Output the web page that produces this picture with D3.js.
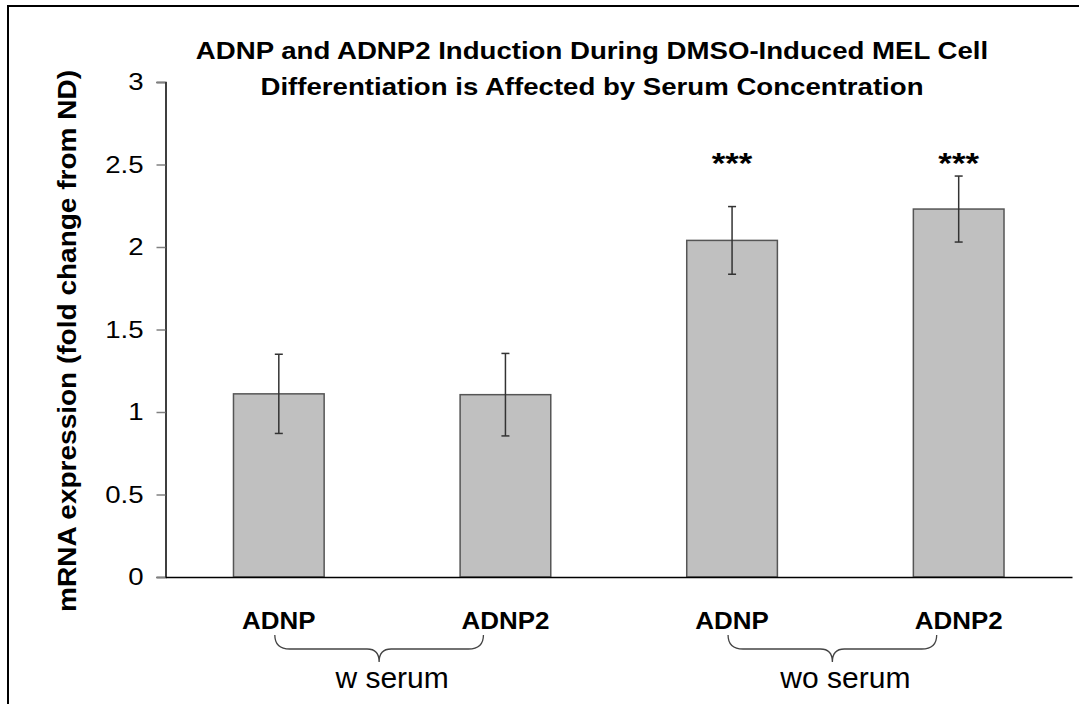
<!DOCTYPE html>
<html>
<head>
<meta charset="utf-8">
<script src="https://cdn.jsdelivr.net/npm/d3@7"></script>
<style>
    body { margin: 0; background: #fff; }
    svg { font-family: "Liberation Sans", Arial, sans-serif; }
</style>
</head>
<body>
<div id="viz"></div>
<script>
var genes = ['ADNP', 'ADNP2', 'ADNP', 'ADNP2'];
var condition = ['w serum', 'w serum', 'wo serum', 'wo serum'];
var foldChange = [1.11, 1.105, 2.04, 2.23];
var errSize = [0.24, 0.25, 0.205, 0.2];
var stars = ['', '', '***', '***'];
var starLevel = 2.45;
var yTickValues = [0, 0.5, 1, 1.5, 2, 2.5, 3];
var groupNames = ['w serum', 'wo serum'];
var titleLines = ['ADNP and ADNP2 Induction During DMSO-Induced MEL Cell',
    'Differentiation is Affected by Serum Concentration'];
var yLabel = 'mRNA expression (fold change from ND)';

var chartW = 1079,
    chartH = 704,
    plotLeft = 165.5,
    plotTop = 82,
    plotBottom = 577;

var svg,
    xScale,
    yScale,
    yAxisTicks,
    xAxisTicks,
    yGuide,
    xGuide,
    bars;

// the original font draws wider than Liberation Sans, so stretch text a bit
function widen(sel, k) {
    sel.each(function () {
        var len = this.getComputedTextLength();
        d3.select(this)
            .attr('textLength', len * k)
            .attr('lengthAdjust', 'spacingAndGlyphs');
    });
}

function bracePath(x0, x1, yTop, yMid, yTip) {
    var m = (x0 + x1) / 2, r = 15, t = 12;
    return 'M' + x0 + ',' + yTop +
        'Q' + x0 + ',' + yMid + ' ' + (x0 + r) + ',' + yMid +
        'L' + (m - t) + ',' + yMid +
        'Q' + m + ',' + yMid + ' ' + m + ',' + yTip +
        'Q' + m + ',' + yMid + ' ' + (m + t) + ',' + yMid +
        'L' + (x1 - r) + ',' + yMid +
        'Q' + x1 + ',' + yMid + ' ' + x1 + ',' + yTop;
}

svg = d3.select('#viz').append('svg')
    .attr('width', chartW)
    .attr('height', chartH);

svg.append('rect')
    .attr('x', 8)
    .attr('y', 6)
    .attr('width', 1200)
    .attr('height', 800)
    .attr('fill', 'none')
    .attr('stroke', '#000')
    .attr('stroke-width', 2);

xScale = d3.scaleBand()
    .domain(d3.range(genes.length))
    .range([plotLeft, 1072])
    .paddingInner(0.6)
    .paddingOuter(0.3);

yScale = d3.scaleLinear()
    .domain([0, 3])
    .range([plotBottom, plotTop]);

// title
svg.append('g').selectAll('text')
    .data(titleLines)
    .enter().append('text')
    .attr('x', 592)
    .attr('y', function (d, i) { return 59 + i * 36; })
    .attr('text-anchor', 'middle')
    .style('font-size', '24px')
    .style('font-weight', 'bold')
    .text(function (d) { return d; })
    .call(widen, 1.15);

// y axis
yAxisTicks = d3.axisLeft(yScale)
    .tickValues(yTickValues)
    .tickSize(9)
    .tickPadding(13)
    .tickFormat(d3.format('~g'));

yGuide = svg.append('g')
    .attr('transform', 'translate(' + plotLeft + ',0)')
    .call(yAxisTicks);
yGuide.select('.domain').attr('stroke', '#000').attr('stroke-width', 1.5);
yGuide.selectAll('.tick line').attr('stroke', '#808080').attr('stroke-width', 1.5);
yGuide.selectAll('.tick text')
    .attr('fill', '#000')
    .style('font-size', '24px')
    .style('font-family', '"Liberation Sans", Arial, sans-serif')
    .call(widen, 1.15);

svg.append('text')
    .attr('transform', 'translate(76,341) rotate(-90)')
    .attr('text-anchor', 'middle')
    .style('font-size', '25px')
    .style('font-weight', 'bold')
    .text(yLabel)
    .call(widen, 1.12);

// bars
bars = svg.append('g').selectAll('rect')
    .data(foldChange)
    .enter().append('rect')
    .attr('x', function (d, i) { return xScale(i); })
    .attr('y', function (d) { return yScale(d); })
    .attr('width', xScale.bandwidth())
    .attr('height', function (d) { return yScale(0) - yScale(d); })
    .attr('fill', '#c0c0c0')
    .attr('stroke', '#555')
    .attr('stroke-width', 1.5);

// error bars
var errG = svg.append('g')
    .attr('stroke', '#333')
    .attr('stroke-width', 1.5);

foldChange.forEach(function (d, i) {
    var cx = xScale(i) + xScale.bandwidth() / 2;
    var hi = yScale(d + errSize[i]), lo = yScale(d - errSize[i]);
    errG.append('line').attr('x1', cx).attr('x2', cx).attr('y1', hi).attr('y2', lo);
    errG.append('line').attr('x1', cx - 4).attr('x2', cx + 4).attr('y1', hi).attr('y2', hi);
    errG.append('line').attr('x1', cx - 4).attr('x2', cx + 4).attr('y1', lo).attr('y2', lo);
});

// significance stars
svg.append('g').selectAll('text')
    .data(stars)
    .enter().append('text')
    .attr('x', function (d, i) { return xScale(i) + xScale.bandwidth() / 2; })
    .attr('y', yScale(starLevel))
    .attr('text-anchor', 'middle')
    .style('font-size', '29px')
    .style('font-weight', 'bold')
    .text(function (d) { return d; })
    .filter(function (d) { return d !== ''; })
    .call(widen, 1.2);

// x axis
xAxisTicks = d3.axisBottom(xScale)
    .tickSize(0)
    .tickPadding(35)
    .tickFormat(function (i) { return genes[i]; });

xGuide = svg.append('g')
    .attr('transform', 'translate(0,' + plotBottom + ')')
    .call(xAxisTicks);
xGuide.select('.domain').attr('stroke', '#000').attr('stroke-width', 1.5);
xGuide.selectAll('.tick text')
    .attr('fill', '#000')
    .style('font-size', '24px')
    .style('font-weight', 'bold')
    .style('font-family', '"Liberation Sans", Arial, sans-serif')
    .call(widen, 1.08);

// group braces
groupNames.forEach(function (g) {
    var idx = d3.range(genes.length).filter(function (i) { return condition[i] === g; });
    var c0 = xScale(idx[0]) + xScale.bandwidth() / 2;
    var c1 = xScale(idx[idx.length - 1]) + xScale.bandwidth() / 2;
    svg.append('path')
        .attr('d', bracePath(c0 - 4, c1 - 22, 635, 649, 662))
        .attr('fill', 'none')
        .attr('stroke', '#444')
        .attr('stroke-width', 1.3);
    svg.append('text')
        .attr('x', (c0 + c1) / 2)
        .attr('y', 688)
        .attr('text-anchor', 'middle')
        .style('font-size', '30px')
        .text(g);
});
</script>
</body>
</html>
